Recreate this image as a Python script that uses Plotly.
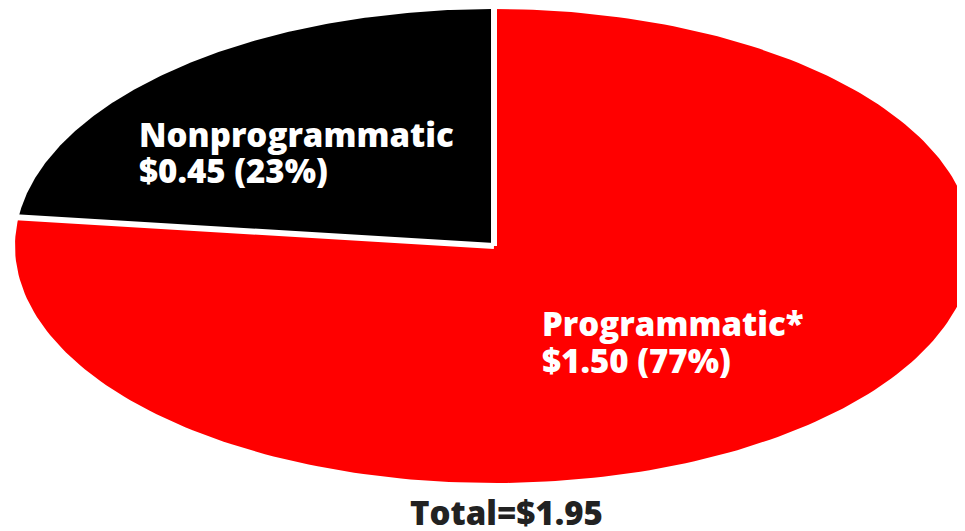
import numpy as np
import plotly.graph_objects as go

# ---- data ----
categories = ["Nonprogrammatic", "Programmatic*"]
values = [0.45, 1.50]
colors = ["#000000", "#ff0000"]

total = sum(values)
fractions = [v / total for v in values]

# page offset (default body margin of the html page)
OX, OY = 8, 8
W, H = 965 - OX, 531 - OY
# ellipse geometry in page pixels (layout only)
cx, cy, rx, ry = 494 - OX, 246 - OY, 479, 237

fig = go.Figure()

# slices start at 12 o'clock, go counter-clockwise
start = 90.0
bounds = []
for name, frac, col in zip(categories, fractions, colors):
    end = start + frac * 360.0
    t = np.radians(np.linspace(start, end, 240))
    xs = np.concatenate([[0], np.cos(t), [0]])
    ys = np.concatenate([[0], np.sin(t), [0]])
    fig.add_trace(go.Scatter(x=xs, y=ys, fill="toself", fillcolor=col,
                             mode="lines", line=dict(width=0, color=col),
                             hoverinfo="skip", showlegend=False))
    bounds.append(start)
    start = end

# white separators along slice borders
for a in bounds:
    r = np.radians(a)
    fig.add_trace(go.Scatter(x=[0, np.cos(r) * 1.03], y=[0, np.sin(r) * 1.03],
                             mode="lines", line=dict(color="white", width=6),
                             hoverinfo="skip", showlegend=False))

font = dict(family="Open Sans", size=33, color="white", weight=800)
# (left x, top of line 1, top of line 2) in page pixels
label_pos = [(137, 110, 146), (540, 299, 336)]
for name, v, frac, (px, py1, py2) in zip(categories, values, fractions, label_pos):
    lines = [name, f"${v:.2f} ({round(frac*100)}%)"]
    for txt, py in zip(lines, (py1, py2)):
        fig.add_annotation(x=(px - OX) / W, y=1 - (py - OY) / H,
                           xref="paper", yref="paper",
                           xanchor="left", yanchor="top", align="left",
                           showarrow=False, text=txt, font=font)

fig.add_annotation(x=(506 - OX) / W, y=1 - (488 - OY) / H, xref="paper", yref="paper",
                   xanchor="center", yanchor="top", showarrow=False,
                   text=f"Total=${total:.2f}",
                   font=dict(family="Open Sans", size=33, color="#222222", weight=800))

fig.update_xaxes(range=[-cx / rx, (W - cx) / rx], visible=False, fixedrange=True)
fig.update_yaxes(range=[-(H - cy) / ry, cy / ry], visible=False, fixedrange=True)
fig.update_layout(width=W, height=H, margin=dict(l=0, r=0, t=0, b=0),
                  paper_bgcolor="white", plot_bgcolor="white")

fig.write_html("out.html")
